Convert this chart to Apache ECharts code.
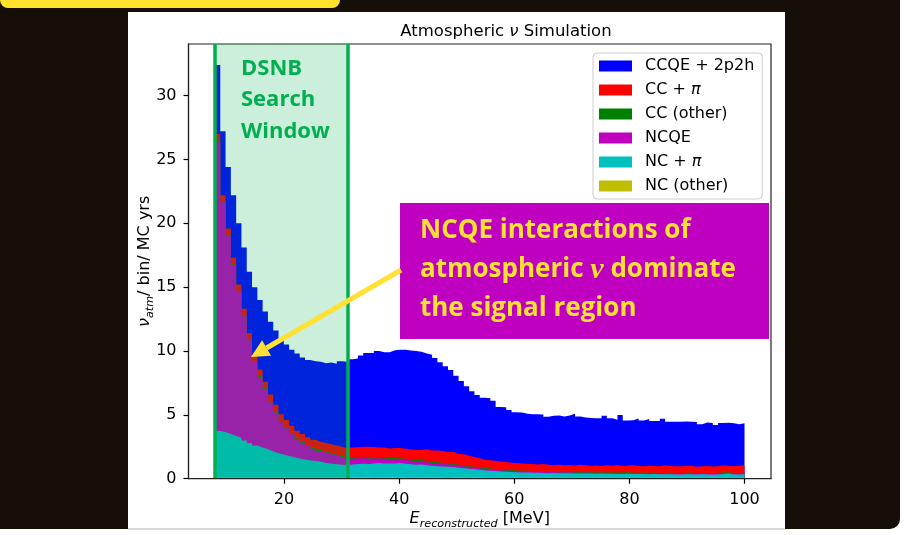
<!DOCTYPE html>
<html>
<head>
<meta charset="utf-8">
<script src="https://cdn.jsdelivr.net/npm/echarts@6/dist/echarts.min.js"></script>
<style>
html,body{margin:0;padding:0;background:#ffffff;}
#c{width:904px;height:535px;}
</style>
</head>
<body>
<div id="c"></div>
<script>
// ---- histogram binning (100 bins from 8 to 100 MeV) ----
const binStart = 8;
const binWidth = 0.92;

// ---- series values per bin (events / bin / MC yrs), bottom of stack first ----
const ncOther = [
  0.10,0.10,0.10,0.09,0.10,0.10,0.09,0.10,0.10,0.09,0.10,0.10,0.10,0.09,0.10,0.10,0.10,0.09,0.10,0.10,0.10,0.10,0.09,0.10,0.10,
  0.09,0.10,0.09,0.09,0.08,0.09,0.09,0.10,0.09,0.09,0.09,0.08,0.09,0.09,0.09,0.10,0.09,0.09,0.08,0.09,0.09,0.09,0.08,0.09,0.09,0.08,
  0.08,0.08,0.07,0.08,0.08,0.08,0.07,0.08,0.08,0.08,0.08,0.07,0.08,0.08,0.08,0.08,0.07,0.08,0.08,0.08,
  0.07,0.08,0.08,0.08,0.07,0.08,0.08,0.08,0.07,0.08,0.08,0.08,0.07,0.08,0.08,0.07,0.08,0.08,0.08,0.07,
  0.08,0.08,0.07,0.08,0.08,0.08,0.07,0.08,0.08
];
const ncPi = [
  3.63,3.55,3.40,3.26,3.10,2.90,2.71,2.50,2.35,2.21,2.05,1.90,1.80,1.69,1.58,1.48,1.40,1.34,1.28,1.22,1.12,1.08,1.05,1.00,0.98,
  1.03,1.06,1.09,1.06,1.11,1.13,1.11,1.09,1.11,1.13,1.09,1.06,1.01,1.03,0.96,0.91,0.89,0.86,0.86,0.83,0.76,0.73,0.69,0.65,0.61,0.57,
  0.54,0.52,0.49,0.47,0.45,0.43,0.42,0.40,0.39,0.38,
  0.37,0.36,0.37,0.35,0.34,0.35,0.33,0.32,0.33,0.32,0.31,0.32,0.30,0.31,0.30,0.29,0.30,0.28,0.29,0.28,
  0.27,0.28,0.27,0.26,0.27,0.26,0.25,0.26,0.27,0.25,0.26,0.25,0.24,0.25,0.28,0.32,0.26,0.25,0.26
];
const ncqe = [
  22.72,18.00,15.55,13.38,11.45,9.73,8.05,6.53,5.51,4.73,3.84,3.19,2.53,2.18,1.83,1.51,1.32,1.13,0.96,0.85,0.83,0.75,0.67,0.59,0.50,
  0.45,0.45,0.44,0.42,0.40,0.38,0.36,0.35,0.33,0.30,0.30,0.28,0.27,0.25,0.24,0.22,0.21,0.20,0.18,0.17,0.16,0.15,0.14,0.13,0.12,0.11,
  0.10,0.10,0.09,0.09,0.09,0.08,0.08,0.08,0.08,0.07,
  0.07,0.07,0.07,0.07,0.07,0.07,0.07,0.07,0.07,0.07,
  0.06,0.06,0.06,0.05,0.06,0.06,0.07,0.06,0.06,0.06,0.06,0.05,0.06,0.06,0.06,0.07,0.06,0.06,0.06,0.05,
  0.06,0.06,0.06,0.06,0.07,0.06,0.06,0.06,0.06
];
const ccOther = [
  0.05,0.05,0.05,0.05,0.05,0.05,0.05,0.05,0.06,0.05,0.06,0.06,0.06,0.06,0.06,0.06,0.06,0.07,0.07,0.07,0.07,0.07,0.07,0.08,0.08,
  0.08,0.08,0.09,0.09,0.09,0.09,0.09,0.09,0.09,0.09,0.09,0.09,0.09,0.09,0.09,0.09,0.09,0.09,0.09,0.09,0.09,0.09,0.07,0.07,0.07,0.07,
  0.07,0.06,0.06,0.06,0.06,0.06,0.06,0.06,0.06,0.06,
  0.05,0.05,0.05,0.05,0.05,0.05,0.05,0.05,0.05,0.05,0.05,0.05,0.05,0.05,0.05,0.05,0.05,0.05,0.05,0.05,
  0.05,0.05,0.05,0.05,0.05,0.05,0.05,0.05,0.05,0.05,0.05,0.05,0.05,0.05,0.05,0.05,0.05,0.05,0.05
];
const ccPi = [
  0.50,0.50,0.50,0.52,0.50,0.52,0.50,0.52,0.53,0.52,0.55,0.55,0.56,0.58,0.58,0.60,0.62,0.62,0.64,0.66,0.68,0.70,0.72,0.73,0.74,
  0.80,0.77,0.79,0.84,0.81,0.76,0.80,0.73,0.78,0.79,0.78,0.78,0.79,0.79,0.92,0.89,0.93,0.92,0.89,0.93,
  0.86,0.85,0.81,0.76,0.71,0.66,0.66,0.64,0.63,0.60,0.57,0.57,0.56,0.56,0.54,0.53,
  0.58,0.54,0.51,0.55,0.51,0.53,0.52,0.58,0.52,0.50,0.55,0.49,0.56,0.52,0.59,0.52,0.53,0.58,0.52,0.51,
  0.56,0.53,0.52,0.60,0.54,0.53,0.53,0.55,0.56,0.51,0.53,0.56,0.54,0.54,0.58,0.49,0.53,0.58,0.60
];
const ccqe2p2h = [
  5.40,5.00,4.80,4.90,4.80,4.80,4.80,5.30,5.45,5.50,5.70,5.80,5.95,5.90,5.95,6.05,6.00,6.05,6.15,6.25,6.25,6.40,6.40,6.70,6.75,
  6.90,6.95,7.15,7.35,7.35,7.55,7.45,7.55,7.65,7.70,7.75,7.75,7.75,7.70,7.50,7.50,7.25,6.95,6.70,6.40,
  6.10,5.75,5.45,5.15,4.95,4.85,4.85,4.70,4.27,4.30,4.13,3.98,4.00,3.90,3.90,3.93,
  3.87,3.76,3.84,3.85,3.83,3.87,4.05,3.78,3.75,3.73,3.70,3.73,3.87,3.73,3.54,3.98,3.53,3.53,3.73,3.57,
  3.66,3.52,3.54,3.65,3.46,3.48,3.49,3.48,3.44,3.51,3.28,3.40,3.41,3.22,3.30,3.38,3.38,3.24,3.30
];

const stackNames  = ['NC (other)', 'NC + π', 'NCQE', 'CC (other)', 'CC + π', 'CCQE + 2p2h'];
const stackColors = ['#bfbf00', '#00bfbf', '#bf00bf', '#008000', '#ff0000', '#0000ff'];
const legendOrder = ['CCQE + 2p2h', 'CC + π', 'CC (other)', 'NCQE', 'NC + π', 'NC (other)'];
const xTicks = [20, 40, 60, 80, 100];
const yTicks = [0, 5, 10, 15, 20, 25, 30];
const searchWindow = [8, 31];

// ---- build cumulative stacked step areas ----
const components = [ncOther, ncPi, ncqe, ccOther, ccPi, ccqe2p2h];
const cumulative = [];
components.forEach((arr, k) => {
  cumulative.push(arr.map((v, i) => v + (k > 0 ? cumulative[k - 1][i] : 0)));
});
function stepData(values) {
  const pts = values.map((v, i) => [binStart + i * binWidth, v]);
  pts.push([binStart + values.length * binWidth, values[values.length - 1]]);
  return pts;
}

const series = [];
for (let k = components.length - 1; k >= 0; k--) {
  series.push({
    type: 'line',
    name: stackNames[k],
    data: stepData(cumulative[k]),
    step: 'end',
    symbol: 'none',
    showSymbol: false,
    silent: true,
    animation: false,
    emphasis: { disabled: true },
    lineStyle: { width: 0, color: stackColors[k] },
    itemStyle: { color: stackColors[k] },
    areaStyle: { color: stackColors[k], opacity: 1 },
    z: 2
  });
}
// DSNB search window overlay
series.push({
  type: 'line',
  name: 'window',
  data: [],
  silent: true,
  animation: false,
  z: 6,
  markArea: {
    silent: true,
    z: 6,
    itemStyle: { color: 'rgba(0,176,80,0.2)' },
    label: { show: false },
    data: [[{ xAxis: searchWindow[0] }, { xAxis: searchWindow[1] }]]
  },
  markLine: {
    silent: true,
    z: 7,
    symbol: ['none', 'none'],
    label: { show: false },
    lineStyle: { color: '#00b050', width: 3.5, type: 'solid' },
    data: searchWindow.map(x => ({ xAxis: x }))
  }
});

const baseFont = 'DejaVu Sans';
const chart = echarts.init(document.getElementById('c'), null, { renderer: 'canvas', width: 904, height: 535 });

const option = {
  backgroundColor: '#ffffff',
  animation: false,
  title: {
    text: 'Atmospheric {i|ν} Simulation',
    left: 501,
    top: 18,
    textAlign: 'center',
    textStyle: {
      fontFamily: baseFont, fontSize: 16.5, fontWeight: 'normal', color: '#000',
      rich: { i: { fontFamily: baseFont, fontStyle: 'italic', fontSize: 16.5, color: '#000' } }
    }
  },
  grid: {
    left: 188.5, right: 133, top: 44, bottom: 56.3,
    show: true, borderColor: '#222', borderWidth: 1.2, backgroundColor: 'transparent'
  },
  legend: {
    data: legendOrder.map(n => ({ name: n, icon: 'rect' })),
    orient: 'vertical',
    left: 593, top: 53,
    itemWidth: 33, itemHeight: 11, itemGap: 6,
    padding: [4, 8, 4, 6],
    backgroundColor: 'rgba(255,255,255,0.8)',
    borderColor: '#cccccc', borderWidth: 1, borderRadius: 4,
    selectedMode: false,
    formatter: n => n.replace('π', '{i|π}'),
    textStyle: {
      fontFamily: baseFont, fontSize: 16, color: '#000', lineHeight: 18, padding: [0, 0, 0, 8],
      rich: { i: { fontFamily: baseFont, fontStyle: 'italic', fontSize: 16, color: '#000', lineHeight: 18 } }
    }
  },
  xAxis: {
    type: 'value', min: 3.4, max: 104.6, z: 10,
    splitLine: { show: false },
    axisLine: { show: true, onZero: false, lineStyle: { color: '#222', width: 1.2 } },
    axisTick: { show: true, customValues: xTicks, length: 5, lineStyle: { color: '#000', width: 1.2 } },
    axisLabel: { customValues: xTicks, margin: 13, fontFamily: baseFont, fontSize: 16, color: '#000' },
    name: '{i|E}{s|reconstructed} [MeV]',
    nameLocation: 'middle', nameGap: 40, nameMoveOverlap: false,
    nameTextStyle: {
      fontFamily: baseFont, fontSize: 16, color: '#000', lineHeight: 22, verticalAlign: 'middle',
      rich: {
        i: { fontFamily: baseFont, fontStyle: 'italic', fontSize: 16, color: '#000', lineHeight: 22, verticalAlign: 'middle' },
        s: { fontFamily: baseFont, fontStyle: 'italic', fontSize: 11.2, color: '#000', verticalAlign: 'bottom' }
      }
    }
  },
  yAxis: {
    type: 'value', min: 0, max: 34.04, z: 10,
    splitLine: { show: false },
    axisLine: { show: true, onZero: false, lineStyle: { color: '#222', width: 1.2 } },
    axisTick: { show: true, customValues: yTicks, length: 5, lineStyle: { color: '#000', width: 1.2 } },
    axisLabel: { customValues: yTicks, margin: 12, fontFamily: baseFont, fontSize: 16, color: '#000' },
    name: '{i|ν}{s|atm}/ bin/ MC yrs',
    nameLocation: 'middle', nameGap: 44, nameRotate: 90, nameMoveOverlap: false,
    nameTextStyle: {
      fontFamily: baseFont, fontSize: 16, color: '#000', lineHeight: 22, verticalAlign: 'middle',
      rich: {
        i: { fontFamily: baseFont, fontStyle: 'italic', fontSize: 16, color: '#000', lineHeight: 22, verticalAlign: 'middle' },
        s: { fontFamily: baseFont, fontStyle: 'italic', fontSize: 11.2, color: '#000', verticalAlign: 'bottom' }
      }
    }
  },
  series: series,
  graphic: [
    // dark slide background with rounded bottom-right corner
    { type: 'rect', z: -30, silent: true, shape: { x: -20, y: -20, width: 920, height: 549, r: [0, 0, 10, 0] }, style: { fill: '#150f07' } },
    // white plot image
    { type: 'rect', z: -20, silent: true, shape: { x: 128, y: 12, width: 657, height: 517 }, style: { fill: '#ffffff' } },
    { type: 'line', z: -19, silent: true, shape: { x1: 128, y1: 529, x2: 785, y2: 529 }, style: { stroke: '#b4b4b4', lineWidth: 1 } },
    // yellow banner at top
    { type: 'rect', z: -20, silent: true, shape: { x: 0, y: -12, width: 340, height: 20, r: 8 }, style: { fill: '#ffe12e' } },
    // DSNB label
    { type: 'text', z: 100, silent: true, style: { text: 'DSNB', x: 241, y: 69, fill: '#00b050', font: 'bold 22px "Open Sans"', verticalAlign: 'middle' } },
    { type: 'text', z: 100, silent: true, style: { text: 'Search', x: 241, y: 100, fill: '#00b050', font: 'bold 22px "Open Sans"', verticalAlign: 'middle' } },
    { type: 'text', z: 100, silent: true, style: { text: 'Window', x: 241, y: 132, fill: '#00b050', font: 'bold 22px "Open Sans"', verticalAlign: 'middle' } },
    // annotation box
    { type: 'rect', z: 100, silent: true, shape: { x: 400, y: 203, width: 369, height: 136 }, style: { fill: '#c000c0' } },
    { type: 'text', z: 101, silent: true, style: { text: 'NCQE interactions of', x: 420, y: 231, fill: '#ffe133', font: 'bold 26px "Open Sans"', verticalAlign: 'middle' } },
    { type: 'text', z: 101, silent: true, style: {
        text: 'atmospheric {n|ν} dominate', x: 420, y: 270, fill: '#ffe133', font: 'bold 26px "Open Sans"', verticalAlign: 'middle',
        rich: { n: { fontFamily: 'Liberation Serif', fontStyle: 'italic', fontWeight: 'bold', fontSize: 30, fill: '#ffe133' } } } },
    { type: 'text', z: 101, silent: true, style: { text: 'the signal region', x: 420, y: 309, fill: '#ffe133', font: 'bold 26px "Open Sans"', verticalAlign: 'middle' } },
    // arrow
    { type: 'line', z: 100, silent: true, shape: { x1: 401, y1: 270, x2: 266.6, y2: 348 }, style: { stroke: '#ffe135', lineWidth: 5 } },
    { type: 'polygon', z: 100, silent: true, shape: { points: [[251, 357], [271.1, 355.8], [262.1, 340.2]] }, style: { fill: '#ffe135' } }
  ]
};
chart.setOption(option);
</script>
</body>
</html>
